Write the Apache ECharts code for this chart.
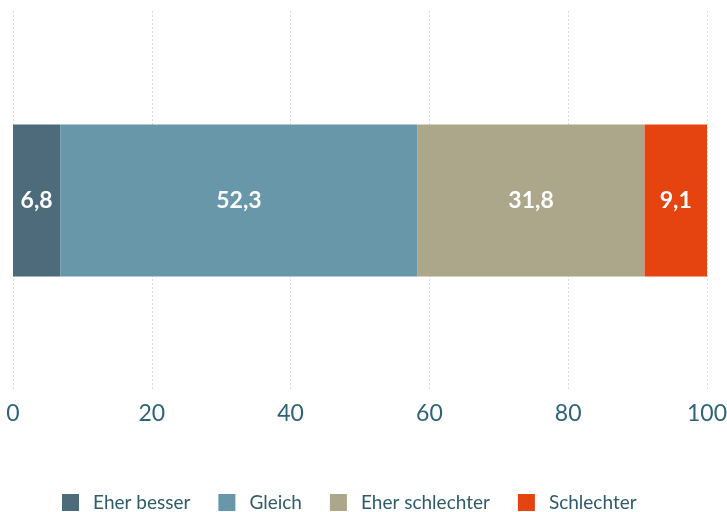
<!DOCTYPE html>
<html>
<head>
<meta charset="utf-8">
<script src="https://cdn.jsdelivr.net/npm/echarts@6/dist/echarts.min.js"></script>
<style>
  html, body { margin: 0; padding: 0; background: #fff; }
  #main { width: 727px; height: 512px; }
</style>
</head>
<body>
<div id="main"></div>
<script>
// Daten
var categories = ["Gesamt"];
var seriesNames = ["Eher besser", "Gleich", "Eher schlechter", "Schlechter"];
// Segmentbreiten, wie im Bild gezeichnet
var eherBesser = [6.8];
var gleich = [51.5];
var eherSchlechter = [32.7];
var schlechter = [9.1];
// Beschriftungen, wie im Bild angegeben
var labelTexts = ["6,8", "52,3", "31,8", "9,1"];
var xTicks = [0, 20, 40, 60, 80, 100];
var colors = ["#4d6b7b", "#6797a8", "#aca68a", "#e5430f"];

var values = [eherBesser, gleich, eherSchlechter, schlechter];

var myChart = echarts.init(document.getElementById("main"));
var option = {
  animation: false,
  textStyle: { fontFamily: "Lato" },
  grid: { left: 13, right: 20, top: 11, bottom: 122, containLabel: false, outerBoundsMode: "none" },
  legend: {
    top: 493,
    left: 62,
    padding: 0,
    itemWidth: 17,
    itemHeight: 17,
    itemGap: 28,
    icon: "rect",
    textStyle: { color: "#2f5b6b", fontSize: 19, fontFamily: "Lato", padding: [0, 0, 0, 9] },
    data: seriesNames
  },
  xAxis: {
    type: "value",
    min: xTicks[0],
    max: xTicks[xTicks.length - 1],
    interval: 20,
    axisLine: { show: false },
    axisTick: { show: false },
    axisLabel: { color: "#2f6478", fontSize: 23, margin: 12, fontFamily: "Lato" },
    splitLine: { show: true, lineStyle: { color: "#d8dbde", type: [2, 2], width: 1 } }
  },
  yAxis: {
    type: "category",
    data: categories,
    show: false
  },
  series: seriesNames.map(function (name, i) {
    return {
      name: name,
      type: "bar",
      stack: "total",
      barWidth: 152,
      data: values[i],
      itemStyle: { color: colors[i] },
      label: {
        show: true,
        position: "inside",
        color: "#fff",
        fontSize: 23,
        fontWeight: "bold",
        fontFamily: "Lato",
        formatter: function () { return labelTexts[i]; }
      }
    };
  })
};
myChart.setOption(option);
</script>
</body>
</html>
